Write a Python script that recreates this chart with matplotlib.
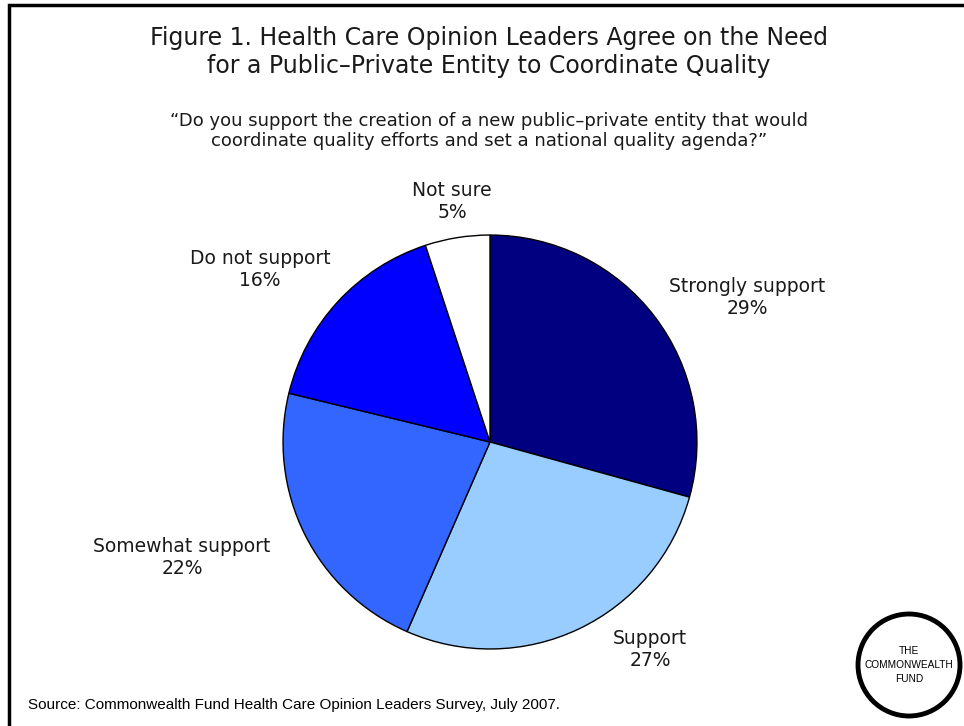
import matplotlib.pyplot as plt
from matplotlib.patches import Rectangle, Circle

labels = ['Strongly support', 'Support', 'Somewhat support', 'Do not support', 'Not sure']
values = [29, 27, 22, 16, 5]
colors = ['#000080', '#99CCFF', '#3366FF', '#0000FF', '#FFFFFF']

W, H = 964, 726
fig = plt.figure(figsize=(W / 100, H / 100), dpi=100)

# pie axes, center ~ (490, 442) px, radius ~ 208 px
r = 208
ax = fig.add_axes([(490 - r) / W, (H - 442 - r) / H, 2 * r / W, 2 * r / H])
ax.pie(values, colors=colors, startangle=90, counterclock=False,
       wedgeprops=dict(edgecolor='black', linewidth=1))
ax.set_xlim(-1.005, 1.005)
ax.set_ylim(-1.005, 1.005)
ax.set_aspect('equal')
ax.axis('off')

# border (only top and left are in view)
fig.add_artist(Rectangle((9 / W, -0.05), 1.2, 1 - 5 / H + 0.05, transform=fig.transFigure,
                         fill=False, edgecolor='black', linewidth=2.5))


def px(x, y):
    return x / W, 1 - y / H


title = 'Figure 1. Health Care Opinion Leaders Agree on the Need\nfor a Public\u2013Private Entity to Coordinate Quality'
fig.text(*px(489, 52), title, ha='center', va='center', fontsize=17,
         linespacing=1.2, color='#1a1a1a')

question = ('\u201cDo you support the creation of a new public\u2013private entity that would\n'
            'coordinate quality efforts and set a national quality agenda?\u201d')
fig.text(*px(489, 131), question, ha='center', va='center', fontsize=13,
         linespacing=1.1, color='#1a1a1a')

label_pos = {
    'Strongly support': (747, 298),
    'Support': (650, 649),
    'Somewhat support': (182, 557),
    'Do not support': (260, 269),
    'Not sure': (452, 201),
}
for lab, val in zip(labels, values):
    fig.text(*px(*label_pos[lab]), f'{lab}\n{val}%', ha='center', va='center',
             fontsize=13.5, linespacing=1.2, color='#1a1a1a')

fig.text(*px(28, 705), 'Source: Commonwealth Fund Health Care Opinion Leaders Survey, July 2007.',
         ha='left', va='center', fontsize=11, family='Liberation Sans', color='black')

# logo
lx, ly, lr = 909, 665, 51
fig.add_artist(Circle((lx / 100, (H - ly) / 100), lr / 100, transform=fig.dpi_scale_trans,
                      fill=False, edgecolor='black', linewidth=3.5))
fig.text(*px(lx, ly), 'THE\nCOMMONWEALTH\nFUND', ha='center', va='center', fontsize=7.3,
         family='Liberation Sans', linespacing=1.5, color='black')

fig.savefig('out.png', dpi=100)
